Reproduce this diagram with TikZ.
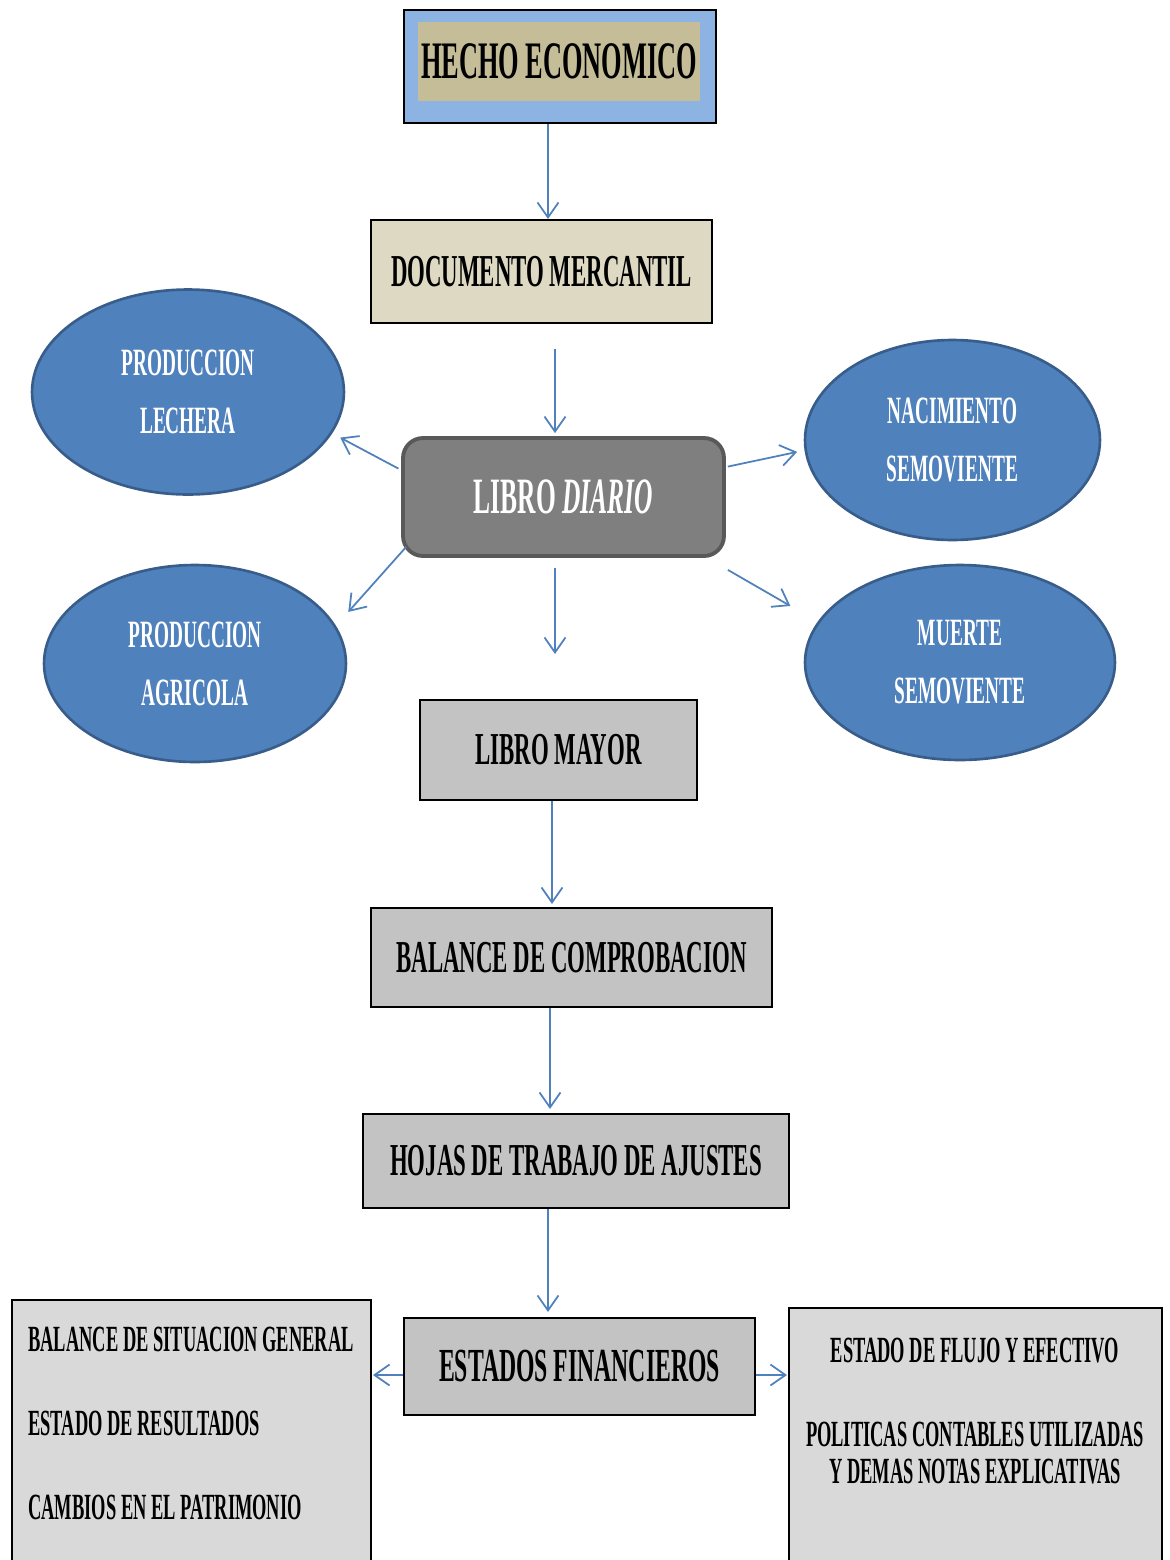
\documentclass[tikz,border=0pt]{standalone}
\usepackage{fontspec}
\setmainfont{Liberation Serif}[FakeStretch=0.5]
\newfontfamily\notasfont{Liberation Serif}[FakeStretch=0.5]
\usetikzlibrary{arrows.meta,shapes.geometric,positioning}
\definecolor{hechoblue}{HTML}{8DB3E2}
\definecolor{hechotan}{HTML}{C4BD97}
\definecolor{docbeige}{HTML}{DDD9C3}
\definecolor{diariogray}{HTML}{7F7F7F}
\definecolor{diarioedge}{HTML}{595959}
\definecolor{ovalblue}{HTML}{4F81BD}
\definecolor{ovaledge}{HTML}{385D8A}
\definecolor{cajagray}{HTML}{C3C3C3}
\definecolor{notasgray}{HTML}{D9D9D9}
\tikzset{
    caja/.style={
           rectangle,
           draw=black, line width=1.2pt,
           fill=cajagray,
           inner sep=2pt,
           text centered,
           font=\fontsize{26}{28}\selectfont\bfseries,
           },
    ovalo/.style={
           ellipse,
           draw=ovaledge, line width=1.5pt,
           fill=ovalblue,
           text=white,
           align=center,
           inner sep=0pt,
           font=\fontsize{22}{33}\selectfont\bfseries,
           },
    flecha/.style={->, draw=ovalblue, line width=1pt},
}

\begin{document}
\begin{tikzpicture}[x=0.02cm,y=-0.02cm,>={Straight Barb[length=0.3cm,width=0.42cm]}]
  \path[use as bounding box, fill=white] (0,0) rectangle (1170,1560);

  \node[caja, fill=hechoblue, line width=1.4pt, minimum width=6.24cm, minimum height=2.26cm] (hecho) at (560,66.5) {};
  \node[rectangle, fill=hechotan, inner sep=0pt, minimum width=5.64cm, minimum height=1.58cm, font=\fontsize{30}{32}\selectfont\bfseries] (hechoin) at (559,61.5) {HECHO ECONOMICO};
  \node[caja, fill=docbeige, minimum width=6.82cm, minimum height=2.06cm] (doc) at (541.5,271.5) {DOCUMENTO MERCANTIL};
  \node[caja, fill=diariogray, draw=diarioedge, line width=2.2pt, rounded corners=0.4cm, text=white,
        minimum width=6.42cm, minimum height=2.36cm, font=\fontsize{29}{31}\selectfont\bfseries] (diario) at (563.5,497) {LIBRO \textit{DIARIO}};

  \node[ovalo, minimum width=6.24cm, minimum height=4.1cm]  (lechera) at (188,392)   {PRODUCCION\\LECHERA};
  \node[ovalo, minimum width=5.9cm,  minimum height=4.0cm]  (nacim)   at (952.5,440) {NACIMIENTO\\SEMOVIENTE};
  \node[ovalo, minimum width=6.04cm, minimum height=3.94cm] (agri)    at (195,663.5) {PRODUCCION\\AGRICOLA};
  \node[ovalo, minimum width=6.2cm,  minimum height=3.9cm]  (muerte)  at (960,662.5) {MUERTE\\SEMOVIENTE};

  \node[caja, minimum width=5.54cm, minimum height=2.0cm]  (mayor)   at (558.5,750)   {LIBRO MAYOR};
  \node[caja, minimum width=8.02cm, minimum height=1.98cm] (balance) at (571.5,957.5) {BALANCE DE COMPROBACION};
  \node[caja, minimum width=8.52cm, minimum height=1.88cm] (hojas) at (576,1161) {HOJAS DE TRABAJO DE AJUSTES};
  \node[caja, minimum width=7.02cm, minimum height=1.94cm, font=\fontsize{27}{29}\selectfont\bfseries] (estados) at (579.5,1366.5) {ESTADOS FINANCIEROS};

  \node[caja, fill=notasgray, minimum width=7.18cm, minimum height=5.3cm]  (estgen) at (191.5,1432.5) {};
  \node[caja, fill=notasgray, minimum width=7.46cm, minimum height=5.14cm] (notas)  at (975.5,1436.5) {};
  \node[anchor=north west, align=left, inner sep=0pt, font=\notasfont\fontsize{21}{47.6}\selectfont\bfseries] (estgentxt) at (28,1327)
       {BALANCE DE SITUACION GENERAL\\ESTADO DE RESULTADOS\\CAMBIOS EN EL PATRIMONIO};
  \node[anchor=north, align=center, inner sep=0pt, font=\notasfont\fontsize{21}{20.8}\selectfont\bfseries] (notastxt) at (975,1338)
       {ESTADO DE FLUJO Y EFECTIVO\\[27pt]POLITICAS CONTABLES UTILIZADAS\\Y DEMAS NOTAS EXPLICATIVAS};

  % columna central
  \draw[flecha] ([xshift=-0.24cm]hecho.south) -- ([xshift=-0.24cm]hecho.south |- doc.north);
  \draw[flecha, shorten <=0.5cm, shorten >=0.06cm] ([xshift=-0.17cm]diario.north |- doc.south) -- ([xshift=-0.17cm]diario.north);
  \draw[flecha, shorten <=0.2cm, shorten >=0.9cm] ([xshift=-0.17cm]diario.south) -- ([xshift=-0.17cm]diario.south |- mayor.north);
  \draw[flecha, shorten >=0.06cm] ([xshift=-0.13cm]mayor.south) -- ([xshift=-0.13cm]mayor.south |- balance.north);
  \draw[flecha, shorten >=0.08cm] ([xshift=-0.43cm]balance.south) -- ([xshift=-0.43cm]balance.south |- hojas.north);
  \draw[flecha, shorten >=0.1cm] ([xshift=-0.56cm]hojas.south) -- ([xshift=-0.56cm]hojas.south |- estados.north);

  % hacia los ovalos
  \draw[flecha, shorten <=0.06cm, shorten >=0.18cm] ([yshift=0.54cm]diario.west) -- (lechera.-16);
  \draw[flecha, shorten >=0.37cm] ([shift={(0.1cm,-1.0cm)}]diario.west) -- (agri.15);
  \draw[flecha, shorten <=0.04cm, shorten >=0.15cm] ([yshift=0.6cm]diario.east) -- (nacim.184);
  \draw[flecha, shorten >=0.63cm] ([shift={(0.04cm,-0.24cm)}]diario.south east) -- (muerte.164);

  % estados financieros
  \draw[flecha, shorten >=0.02cm] ([yshift=-0.17cm]estados.west) -- ([yshift=-0.17cm]estados.west -| estgen.east);
  \draw[flecha, shorten >=0.02cm] ([yshift=-0.17cm]estados.east) -- ([yshift=-0.17cm]estados.east -| notas.west);
\end{tikzpicture}
\end{document}
